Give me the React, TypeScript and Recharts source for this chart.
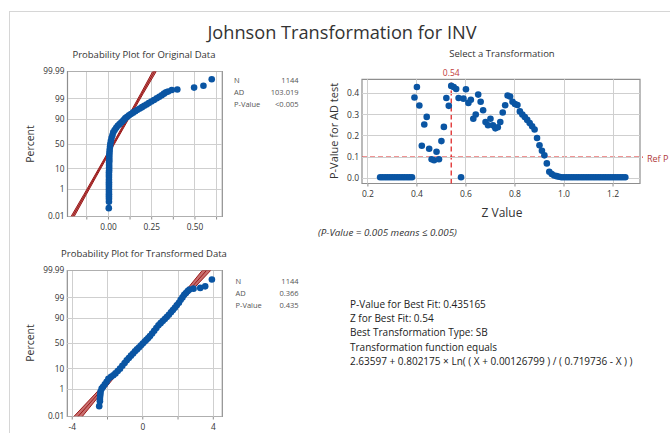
import React from 'react';
import { ScatterChart, Scatter, XAxis, YAxis, ReferenceLine, ReferenceArea } from 'recharts';

const FONT = "'Open Sans', 'Noto Sans', sans-serif";
const BLUE = '#0a55a3';
const DARKRED = '#9a1a1a';
const BAND = '#c86f6f';
const REFRED = '#e02a2a';
const GRID = '#cfcfcf';
const BORDER = '#8e8e8e';

// ---------- probability plot axes ----------
const pctTicks = [0.01, 1, 10, 50, 90, 99, 99.99];
const pctTickLabels = ['0.01', '1', '10', '50', '90', '99', '99.99'];
const fitPct = [0.01, 0.5, 5, 50, 95, 99.5, 99.99];

// ---------- original data ----------
const origX = [
  0.002, 0.003, 0.003, 0.003, 0.003, 0.003, 0.003, 0.003, 0.003, 0.003, 0.003,
  0.003, 0.003, 0.003, 0.004, 0.004, 0.004, 0.004, 0.005, 0.005, 0.005,
  0.006, 0.007, 0.009, 0.011, 0.014, 0.018, 0.023, 0.028, 0.036, 0.045, 0.054,
  0.064, 0.074, 0.083, 0.091, 0.098, 0.108, 0.119, 0.13, 0.142, 0.155, 0.168,
  0.181, 0.194, 0.207, 0.22, 0.233, 0.248, 0.263, 0.279, 0.294, 0.308, 0.321,
  0.333, 0.345,
  0.366, 0.398, 0.495, 0.549, 0.597,
];
const origPct = [
  0.05, 0.15, 0.25, 0.35, 0.5, 0.7, 1, 1.4, 1.9, 2.5, 3.3,
  4.5, 5.7, 7.3, 9, 11.5, 14, 17, 20, 24, 28,
  32.6, 38, 44, 50, 56, 62, 67.4, 72.6, 76.4, 79.7, 82.4,
  84.6, 86.4, 88.1, 89.6, 90.8, 91.9, 92.9, 93.8, 94.6, 95.35, 96,
  96.56, 97.06, 97.5, 97.88, 98.21, 98.54, 98.81, 99.04, 99.22, 99.38, 99.51,
  99.6, 99.65,
  99.72, 99.74, 99.81, 99.86, 99.955,
];
const origFitX = [-0.207, -0.134, -0.075, 0.0295, 0.134, 0.193, 0.266];
const origLoX = [-0.216, -0.141, -0.081, 0.0245, 0.128, 0.186, 0.256];
const origHiX = [-0.198, -0.127, -0.069, 0.0345, 0.14, 0.2, 0.276];
const origXTicks = [-0.125, 0, 0.125, 0.25, 0.375, 0.5, 0.625];
const origXLabels = ['', '0.00', '', '0.25', '', '0.50', ''];
const origStats = [['N', '1144'], ['AD', '103.019'], ['P-Value', '<0.005']];

// ---------- transformed data ----------
const trX = [
  -2.47, -2.43, -2.43, -2.42, -2.41, -2.39,
  -2.33, -2.25, -2.15, -2.05, -1.95, -1.8, -1.67, -1.55, -1.42, -1.29, -1.16,
  -1.03, -0.91, -0.79, -0.67, -0.55, -0.44, -0.33, -0.22, -0.11, 0, 0.11, 0.21,
  0.31, 0.41, 0.53, 0.65, 0.77, 0.89, 1.01, 1.13, 1.25, 1.36, 1.48, 1.6, 1.71,
  1.82, 1.93, 2.05, 2.15, 2.25, 2.35, 2.45, 2.55, 2.65, 2.88, 3.26, 3.54, 3.92,
];
const trPct = [
  0.071, 0.16, 0.23, 0.35, 0.49, 0.71,
  1.07, 1.39, 1.88, 2.56, 3.6, 4.46, 5.26, 6.4, 8.1, 10, 12.9,
  16.1, 19.5, 23, 26.8, 30.5, 34.5, 38.2, 42, 46, 50, 54, 57.5,
  61, 64.8, 69.5, 74.2, 78.5, 82.4, 85, 87.3, 89.3, 91.1, 92.9, 94.4, 95.6,
  96.6, 97.4, 98.1, 98.7, 99.06, 99.34, 99.5, 99.63, 99.7, 99.74, 99.77, 99.82, 99.944,
];
const trFitX = [-3.67, -2.55, -1.64, -0.03, 1.58, 2.49, 3.61];
const trLoX = [-3.91, -2.71, -1.74, -0.08, 1.48, 2.33, 3.37];
const trHiX = [-3.43, -2.39, -1.54, 0.02, 1.68, 2.65, 3.85];
const trXTicks = [-4, -2, 0, 2, 4];
const trXLabels = ['-4', '', '0', '', '4'];
const trStats = [['N', '1144'], ['AD', '0.366'], ['P-Value', '0.435']];

// ---------- select a transformation ----------
const zValues = [
  0.25, 0.26, 0.27, 0.28, 0.29, 0.3, 0.31, 0.32, 0.33, 0.34, 0.35, 0.36, 0.37, 0.38,
  0.39, 0.4, 0.41, 0.42, 0.43, 0.44, 0.45, 0.46, 0.47, 0.48, 0.49, 0.5, 0.51, 0.52,
  0.53, 0.54, 0.55, 0.56, 0.57, 0.58, 0.59, 0.6, 0.61, 0.62, 0.63, 0.64, 0.65, 0.66,
  0.67, 0.68, 0.69, 0.7, 0.71, 0.72, 0.73, 0.74, 0.75, 0.76, 0.77, 0.78, 0.79, 0.8,
  0.81, 0.82, 0.83, 0.84, 0.85, 0.86, 0.87, 0.88, 0.89, 0.9, 0.91, 0.92, 0.93, 0.94,
  0.95, 0.96, 0.97, 0.98, 0.99, 1.0, 1.01, 1.02, 1.03, 1.04, 1.05, 1.06, 1.07, 1.08,
  1.09, 1.1, 1.11, 1.12, 1.13, 1.14, 1.15, 1.16, 1.17, 1.18, 1.19, 1.2, 1.21, 1.22,
  1.23, 1.24, 1.25,
];
const pValues = [
  0.005, 0.005, 0.005, 0.005, 0.005, 0.005, 0.005, 0.005, 0.005, 0.005, 0.005, 0.005, 0.005, 0.005,
  0.38, 0.43, 0.343, 0.153, 0.253, 0.289, 0.139, 0.09, 0.085, 0.125, 0.09, 0.175, 0.242, 0.378,
  0.341, 0.435, 0.43, 0.42, 0.378, 0.005, 0.375, 0.419, 0.355, 0.37, 0.28, 0.3, 0.394, 0.36,
  0.32, 0.265, 0.25, 0.28, 0.25, 0.235, 0.24, 0.265, 0.31, 0.344, 0.39, 0.385, 0.36, 0.35,
  0.345, 0.315, 0.3, 0.288, 0.275, 0.26, 0.245, 0.23, 0.19, 0.155, 0.13, 0.108, 0.07, 0.031,
  0.02, 0.013, 0.01, 0.007, 0.005, 0.005, 0.005, 0.005, 0.005, 0.005, 0.005, 0.005, 0.005, 0.005,
  0.005, 0.005, 0.005, 0.005, 0.005, 0.005, 0.005, 0.005, 0.005, 0.005, 0.005, 0.005, 0.005, 0.005,
  0.005, 0.005, 0.005,
];
const zTicks = [0.2, 0.4, 0.6, 0.8, 1.0, 1.2];
const zTickLabels = ['0.2', '0.4', '0.6', '0.8', '1.0', '1.2'];
const pTicks = [0, 0.1, 0.2, 0.3, 0.4];
const pTickLabels = ['0.0', '0.1', '0.2', '0.3', '0.4'];
const bestZ = 0.54;
const refP = 0.1;

const fitLines = [
  'P-Value for Best Fit: 0.435165',
  'Z for Best Fit: 0.54',
  'Best Transformation Type: SB',
  'Transformation function equals',
  '2.63597 + 0.802175 \u00d7 Ln( ( X + 0.00126799 ) / ( 0.719736 - X ) )',
];

// inverse normal CDF (axis transform of a normal probability plot)
function probit(p: number): number {
  const a = [-39.69683028665376, 220.9460984245205, -275.9285104469687, 138.357751867269, -30.66479806614716, 2.506628277459239];
  const b = [-54.47609879822406, 161.5858368580409, -155.6989798598866, 66.80131188771082, -13.28068155288572];
  const c = [-0.007784894002430293, -0.3223964580411365, -2.400758277161838, -2.549732539343734, 4.374664141464968, 2.938163982698783];
  const d = [0.007784695709041462, 0.3224671290700398, 2.445134137142996, 3.754408661907416];
  const pl = 0.02425;
  if (p < pl) {
    const q = Math.sqrt(-2 * Math.log(p));
    return (((((c[0] * q + c[1]) * q + c[2]) * q + c[3]) * q + c[4]) * q + c[5]) / ((((d[0] * q + d[1]) * q + d[2]) * q + d[3]) * q + 1);
  }
  if (p > 1 - pl) {
    const q = Math.sqrt(-2 * Math.log(1 - p));
    return -(((((c[0] * q + c[1]) * q + c[2]) * q + c[3]) * q + c[4]) * q + c[5]) / ((((d[0] * q + d[1]) * q + d[2]) * q + d[3]) * q + 1);
  }
  const q = p - 0.5;
  const r = q * q;
  return (((((a[0] * r + a[1]) * r + a[2]) * r + a[3]) * r + a[4]) * r + a[5]) * q / (((((b[0] * r + b[1]) * r + b[2]) * r + b[3]) * r + b[4]) * r + 1);
}

function labelFor(ticks: number[], labels: string[]) {
  return (v: number) => {
    let best = 0;
    for (let i = 1; i < ticks.length; i++) if (Math.abs(ticks[i] - v) < Math.abs(ticks[best] - v)) best = i;
    return labels[best];
  };
}

const Dot = (props: any) => <circle cx={props.cx} cy={props.cy} r={3.3} fill={BLUE} />;
const NoShape = () => <g />;

// grid line drawn through the chart's own scales, as a crisp 1px path
const GridPath = (props: any) => {
  const pts = props.points || [];
  if (pts.length < 2) return <g />;
  const d = `M${pts[0].x},${pts[0].y}L${pts[1].x},${pts[1].y}`;
  return <path d={d} stroke={GRID} strokeWidth={1} fill="none" shapeRendering="crispEdges" />;
};

function gridLines(xTicks: number[], yTicks: number[], xDomain: number[], yDomain: number[]) {
  return [
    ...xTicks.map((t) => (
      <Scatter key={'gx' + t} data={[{ x: t, y: yDomain[0] }, { x: t, y: yDomain[1] }]} shape={NoShape}
        line={GridPath} lineType="joint" isAnimationActive={false} />
    )),
    ...yTicks.map((t) => (
      <Scatter key={'gy' + t} data={[{ x: xDomain[0], y: t }, { x: xDomain[1], y: t }]} shape={NoShape}
        line={GridPath} lineType="joint" isAnimationActive={false} />
    )),
  ];
}

function ProbPlot(props: any) {
  const { left, top, width, height, plotTop, plotLeft, plotRight, xAxisH, xTickMargin, xs, pcts, fitX, loX, hiX, xDomain, xTicks, xLabels } = props;
  const zs = fitPct.map((p) => probit(p / 100));
  const yTicks = pctTicks.map((p) => probit(p / 100));
  const yDomain = [yTicks[0], yTicks[yTicks.length - 1]];
  const pts = xs.map((x: number, i: number) => ({ x, y: probit(pcts[i] / 100) }));
  const band = [
    ...loX.map((x: number, i: number) => ({ x, y: zs[i] })),
    ...hiX.map((x: number, i: number) => ({ x, y: zs[i] })).reverse(),
  ];
  const fit = fitX.map((x: number, i: number) => ({ x, y: zs[i] }));
  const tickStyle = { fontSize: 8.3, fill: '#333', fontFamily: FONT };
  return (
    <div style={{ position: 'absolute', left, top }}>
      <ScatterChart width={width} height={height} margin={{ top: plotTop, right: width - plotRight, bottom: 0, left: 0 }}>
        <XAxis type="number" dataKey="x" domain={xDomain} ticks={xTicks} interval={0} tickFormatter={labelFor(xTicks, xLabels)}
          allowDataOverflow height={xAxisH} axisLine={false} tickLine={{ stroke: BORDER }} tickSize={3} tickMargin={xTickMargin} tick={tickStyle} />
        <YAxis type="number" dataKey="y" domain={yDomain} ticks={yTicks} interval={0}
          tickFormatter={labelFor(yTicks, pctTickLabels)} allowDataOverflow width={plotLeft} axisLine={false} tickLine={false}
          tickSize={2} tickMargin={1} tick={tickStyle} />
        {gridLines(xTicks, yTicks, xDomain, yDomain)}
        <Scatter data={band} shape={NoShape} line={{ stroke: DARKRED, strokeWidth: 1, fill: BAND }} lineType="joint" isAnimationActive={false} />
        <Scatter data={fit} shape={NoShape} line={{ stroke: DARKRED, strokeWidth: 1 }} lineType="joint" isAnimationActive={false} />
        <Scatter data={pts} shape={Dot} isAnimationActive={false} />
        <ReferenceArea x1={xDomain[0]} x2={xDomain[1]} y1={yDomain[0]} y2={yDomain[1]} fill="none" fillOpacity={0}
          stroke={BORDER} strokeWidth={1.2} ifOverflow="visible" />
      </ScatterChart>
    </div>
  );
}

function Txt(props: any) {
  const { x, y, size, color = '#222', anchor = 'middle', italic = false, rotate = 0, children } = props;
  const tx = anchor === 'middle' ? '-50%' : anchor === 'end' ? '-100%' : '0%';
  return (
    <div style={{
      position: 'absolute', left: x, top: y, fontSize: size, lineHeight: 1, color, fontFamily: FONT,
      fontStyle: italic ? 'italic' : 'normal', whiteSpace: 'nowrap',
      transform: `translate(${tx}, -50%) rotate(${rotate}deg)`,
    }}>{children}</div>
  );
}

function SelectPlot() {
  const pts = zValues.map((z, i) => ({ x: z, y: pValues[i] }));
  const xDomain = [0.176, 1.31];
  const yDomain = [-0.0245, 0.466];
  const tickStyle = { fontSize: 8.5, fill: '#333', fontFamily: FONT };
  return (
    <div style={{ position: 'absolute', left: 300, top: 65 }}>
      <ScatterChart width={360} height={140} margin={{ top: 14.3, right: 20, bottom: 0, left: 0 }}>
        <XAxis type="number" dataKey="x" domain={xDomain} ticks={zTicks} interval={0} tickFormatter={labelFor(zTicks, zTickLabels)}
          allowDataOverflow height={21.5} axisLine={false} tickLine={{ stroke: BORDER }} tickSize={3} tickMargin={4} tick={tickStyle} />
        <YAxis type="number" dataKey="y" domain={yDomain} ticks={pTicks} interval={0} tickFormatter={labelFor(pTicks, pTickLabels)}
          allowDataOverflow width={62} axisLine={false} tickLine={false} tickSize={2} tickMargin={1} tick={tickStyle} />
        {gridLines(zTicks, pTicks, xDomain, yDomain)}
        <Scatter data={pts} shape={Dot} isAnimationActive={false} />
        <ReferenceLine x={bestZ} stroke={REFRED} strokeWidth={1.3} strokeDasharray="5 3"
          label={{ value: '0.54', position: 'top', fill: '#c03a3a', fontSize: 8.5, fontFamily: FONT, offset: 3 }} />
        <ReferenceLine segment={[{ x: xDomain[0], y: refP }, { x: 1.322, y: refP }]} stroke={REFRED} strokeWidth={1.3}
          strokeDasharray="5 3" ifOverflow="visible" />
        <ReferenceArea x1={xDomain[0]} x2={xDomain[1]} y1={yDomain[0]} y2={yDomain[1]} fill="none" fillOpacity={0}
          stroke={BORDER} strokeWidth={1.2} ifOverflow="visible" />
      </ScatterChart>
    </div>
  );
}

export default function App() {
  return (
    <div style={{ position: 'absolute', left: 0, top: 0, width: 670, height: 433, background: '#fff', overflow: 'hidden', fontFamily: FONT }}>
      <div style={{ position: 'absolute', left: 9, top: 11, width: 700, height: 500, borderTop: '1px solid #d6d6d6', borderLeft: '1px solid #d6d6d6' }} />

      <Txt x={342} y={32} size={18.2} color="#333">Johnson Transformation for INV</Txt>

      <Txt x={144} y={55} size={9.5} color="#333">Probability Plot for Original Data</Txt>
      <Txt x={502} y={54.3} size={9.5} color="#333">Select a Transformation</Txt>
      <Txt x={144} y={254} size={9.5} color="#333">Probability Plot for Transformed Data</Txt>

      <Txt x={30} y={143.5} size={10.5} color="#333" rotate={-90}>Percent</Txt>
      <Txt x={30} y={343.3} size={10.5} color="#333" rotate={-90}>Percent</Txt>

      <ProbPlot left={0} top={60} width={240} height={176} plotTop={11.5} plotLeft={67.5} plotRight={222.3} xAxisH={19.5} xTickMargin={5}
        xs={origX} pcts={origPct} fitX={origFitX} loX={origLoX} hiX={origHiX} xDomain={[-0.2366, 0.658]} xTicks={origXTicks} xLabels={origXLabels} />
      <ProbPlot left={0} top={262} width={240} height={172} plotTop={8.5} plotLeft={67.3} plotRight={222.3} xAxisH={17.5} xTickMargin={5}
        xs={trX} pcts={trPct} fitX={trFitX} loX={trLoX} hiX={trHiX} xDomain={[-4.28, 4.51]} xTicks={trXTicks} xLabels={trXLabels} />

      {origStats.map((s, i) => (
        <React.Fragment key={'o' + i}>
          <Txt x={234} y={81 + i * 12} size={7.5} color="#555" anchor="start">{s[0]}</Txt>
          <Txt x={298.5} y={81 + i * 12} size={7.5} color="#555" anchor="end">{s[1]}</Txt>
        </React.Fragment>
      ))}
      {trStats.map((s, i) => (
        <React.Fragment key={'t' + i}>
          <Txt x={235.5} y={282 + i * 12} size={7.5} color="#555" anchor="start">{s[0]}</Txt>
          <Txt x={298.5} y={282 + i * 12} size={7.5} color="#555" anchor="end">{s[1]}</Txt>
        </React.Fragment>
      ))}

      <SelectPlot />
      <Txt x={333} y={131} size={11} color="#333" rotate={-90}>P-Value for AD test</Txt>
      <Txt x={502} y={213} size={12} color="#333">Z Value</Txt>
      <Txt x={647} y={157.7} size={9} color="#b03a3a" anchor="start">Ref P</Txt>
      <Txt x={318} y={232.7} size={9.8} color="#333" anchor="start" italic>(P-Value = 0.005 means ≤ 0.005)</Txt>

      {fitLines.map((l, i) => (
        <Txt key={'f' + i} x={350} y={304 + i * 14.2} size={10} color="#222" anchor="start">{l}</Txt>
      ))}
    </div>
  );
}
